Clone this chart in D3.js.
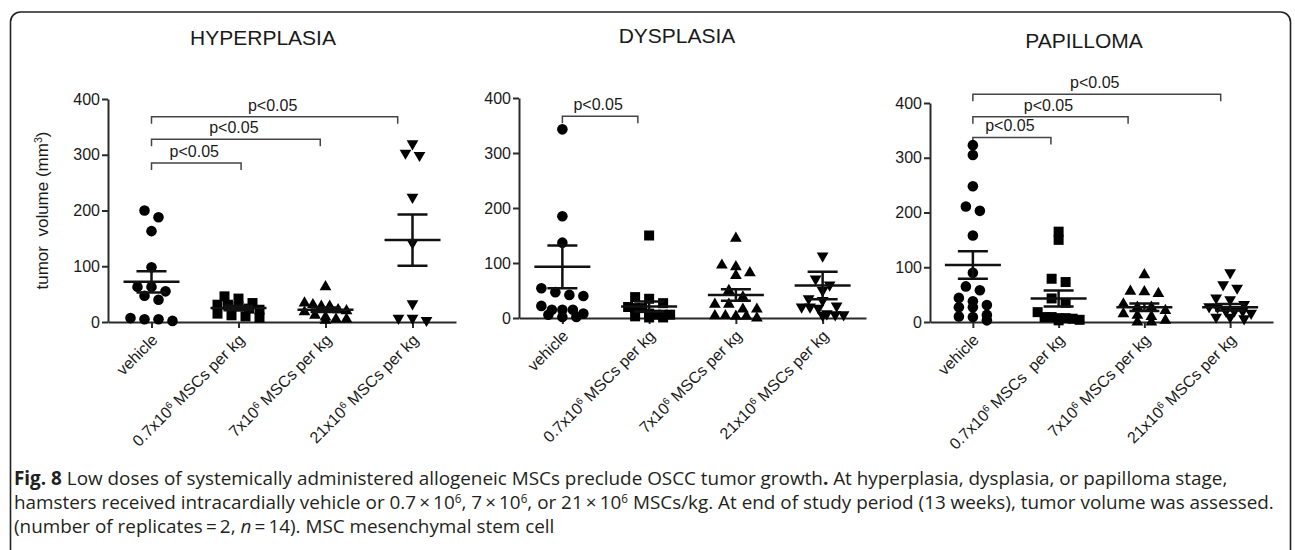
<!DOCTYPE html>
<html>
<head>
<meta charset="utf-8">
<script src="https://cdn.jsdelivr.net/npm/d3@7"></script>
<style>
  body { margin: 0; background: #fff; }
  svg { display: block; }
  text { white-space: pre; }
</style>
</head>
<body>
<div id="main-chart"></div>
<script>
const width = 1295;
const height = 550;

const yTicks = [0, 100, 200, 300, 400];
const groupLabels = ["vehicle", "0.7x10^6 MSCs per kg", "7x10^6 MSCs per kg", "21x10^6 MSCs per kg"];
const papillomaLabels = ["vehicle", "0.7x10^6 MSCs  per kg", "7x10^6 MSCs per kg", "21x10^6 MSCs per kg"];
const shapes = ["circle", "square", "triangle", "triangleDown"];

// hyperplasia (mm3)
const hyperVehicle = [200, 188, 163, 98, 63, 63, 55, 47, 40, 7, 5, 5, 2];
const hyperLow = [46, 42, 34, 31, 31, 28, 24, 22, 15, 12, 10, 8];
const hyperMid = [63, 34, 31, 28, 28, 22, 20, 18, 12, 9, 5, 5, 3];
const hyperHigh = [320, 303, 299, 224, 142, 33, 7, 7, 3];
const hyperMean = [72, 25, 22, 147];
const hyperSem = [19, 4, 4, 46];
const hyperBrackets = [
  { to: 1.03, level: 285 },
  { to: 1.94, level: 328 },
  { to: 2.83, level: 368 },
];

// dysplasia
const dysVehicle = [343, 185, 137, 54, 47, 42, 40, 22, 15, 15, 15, 8, 6, 2, 2];
const dysLow = [150, 38, 35, 27, 20, 18, 18, 8, 6, 6, 6, 3, 1, 1];
const dysMid = [145, 96, 93, 82, 77, 50, 38, 25, 25, 16, 16, 4, 4, 3, 3, 0];
const dysHigh = [113, 71, 60, 50, 35, 32, 22, 20, 20, 18, 8, 6, 6, 5];
const dysMean = [93, 21, 42, 59];
const dysSem = [39, 9, 10.5, 25];
const dysBrackets = [{ to: 0.87, level: 367 }];

// papilloma
const papVehicle = [323, 305, 248, 211, 203, 158, 90, 65, 58, 44, 38, 31, 27, 27, 13, 10, 9, 3];
const papLow = [165, 150, 79, 73, 43, 35, 18, 9, 9, 7, 7, 6, 4, 3];
const papMid = [86, 56, 55, 52, 33, 27, 27, 21, 15, 12, 10, 3, 0, 0];
const papHigh = [90, 68, 62, 44, 41, 32, 28, 27, 20, 20, 20, 16, 9, 9, 6];
const papMean = [104, 43, 27, 27];
const papSem = [25, 14.5, 7, 6];
const papBrackets = [
  { to: 0.91, level: 337 },
  { to: 1.81, level: 375 },
  { to: 2.89, level: 416 },
];

const captionLines = [
  "**Fig. 8** Low doses of systemically administered allogeneic MSCs preclude OSCC tumor growth**.** At hyperplasia, dysplasia, or papilloma stage,",
  "hamsters received intracardially vehicle or 0.7\u2009×\u200910^6, 7\u2009×\u200910^6, or 21\u2009×\u200910^6 MSCs/kg. At end of study period (13 weeks), tumor volume was assessed.",
  "(number of replicates\u2009=\u20092, *n*\u2009=\u200914). MSC mesenchymal stem cell",
];

const panels = [
  { title: "HYPERPLASIA", labels: groupLabels, values: [hyperVehicle, hyperLow, hyperMid, hyperHigh], mean: hyperMean, sem: hyperSem, brackets: hyperBrackets },
  { title: "DYSPLASIA", labels: groupLabels, values: [dysVehicle, dysLow, dysMid, dysHigh], mean: dysMean, sem: dysSem, brackets: dysBrackets },
  { title: "PAPILLOMA", labels: papillomaLabels, values: [papVehicle, papLow, papMid, papHigh], mean: papMean, sem: papSem, brackets: papBrackets },
];

const layout = [
  { x0: 108, x1: 456, top: 99, bottom: 322, titleX: 263, titleY: 45 },
  { x0: 519, x1: 866, top: 98, bottom: 318, titleX: 677, titleY: 43 },
  { x0: 930, x1: 1273, top: 103, bottom: 322, titleX: 1084, titleY: 48 },
];

const chartFont = "'Liberation Sans', Arial, sans-serif";
const ink = "#1a1a1a";

const symbolFor = {
  circle: d3.symbol().type(d3.symbolCircle).size(88),
  square: d3.symbol().type(d3.symbolSquare).size(100),
  triangle: d3.symbol().type(d3.symbolTriangle).size(60),
  triangleDown: d3.symbol().type(d3.symbolTriangle).size(60),
};

// text with ^6 superscripts, *italic* and **bold** parts
const richText = (sel, str) => {
  const tokens = str.split(/(\*\*[^*]+\*\*|\*[^*]+\*|\^\d)/).filter((t) => t !== "");
  let raised = false;
  tokens.forEach((tok) => {
    const span = sel.append("tspan");
    if (tok.startsWith("^")) {
      span.text(tok.slice(1)).attr("font-size", "62%").attr("dy", "-0.55em");
      raised = true;
      return;
    }
    if (raised) {
      span.attr("dy", "0.34em");
      raised = false;
    }
    if (tok.startsWith("**")) span.text(tok.slice(2, -2)).attr("font-weight", "bold");
    else if (tok.startsWith("*")) span.text(tok.slice(1, -1)).attr("font-style", "italic");
    else span.text(tok);
  });
};

// GraphPad-like column scatter: points of similar height share a row
const spreadRows = (values, y) => {
  const pts = values.map((v) => ({ v, py: y(v) }));
  const rows = [];
  pts
    .slice()
    .sort((a, b) => a.py - b.py)
    .forEach((p) => {
      const row = rows[rows.length - 1];
      if (row && p.py - row[0].py < 8) row.push(p);
      else rows.push([p]);
    });
  rows.forEach((row) => {
    const n = row.length;
    const step = n > 1 ? Math.min(14, 42 / (n - 1)) : 0;
    row.forEach((p, j) => (p.dx = (j - (n - 1) / 2) * step));
  });
  return pts;
};

const svg = d3
  .select("#main-chart")
  .append("svg")
  .attr("width", width)
  .attr("height", height);

svg
  .append("rect")
  .attr("x", 10.5)
  .attr("y", 12)
  .attr("width", 1280)
  .attr("height", 600)
  .attr("rx", 10)
  .attr("fill", "none")
  .attr("stroke", "#222")
  .attr("stroke-width", 1.6);

const drawPanel = (panel, lay, showYLabel) => {
  const g = svg.append("g");

  const x = d3.scaleLinear().domain([-0.5, 3.5]).range([lay.x0, lay.x1]);
  const y = d3.scaleLinear().domain([0, 400]).range([lay.bottom, lay.top]);

  g.append("text")
    .attr("x", lay.titleX)
    .attr("y", lay.titleY)
    .attr("text-anchor", "middle")
    .attr("font-family", chartFont)
    .attr("font-size", 21)
    .attr("fill", ink)
    .text(panel.title);

  const styleAxis = (ax) => {
    ax.selectAll("path, line").attr("stroke", "#2a2a2a").attr("stroke-width", 2);
    ax.selectAll("text")
      .attr("font-family", chartFont)
      .attr("font-size", 16)
      .attr("fill", ink);
  };

  g.append("g")
    .attr("transform", `translate(${lay.x0}, 0)`)
    .call(d3.axisLeft(y).tickValues(yTicks).tickSize(6).tickPadding(2).tickSizeOuter(0))
    .call(styleAxis);

  g.append("g")
    .attr("transform", `translate(0, ${lay.bottom})`)
    .call(d3.axisBottom(x).tickValues([0, 1, 2, 3]).tickFormat("").tickSize(6).tickSizeOuter(0))
    .call(styleAxis);

  panel.labels.forEach((lab, i) => {
    const t = g
      .append("text")
      .attr("transform", `translate(${x(i) + 7}, ${lay.bottom + 19}) rotate(-45)`)
      .attr("text-anchor", "end")
      .attr("font-family", chartFont)
      .attr("font-size", 16)
      .attr("fill", ink);
    richText(t, lab);
  });

  if (showYLabel) {
    const t = g
      .append("text")
      .attr("transform", `translate(48, ${(lay.top + lay.bottom) / 2}) rotate(-90)`)
      .attr("text-anchor", "middle")
      .attr("font-family", chartFont)
      .attr("font-size", 17)
      .attr("fill", ink);
    richText(t, "tumor  volume (mm^3)");
  }

  // significance brackets
  panel.brackets.forEach((b) => {
    const xl = x(0);
    const xr = x(b.to);
    const yl = y(b.level);
    g.append("path")
      .attr("d", `M${xl},${yl + 7}V${yl}H${xr}V${yl + 7}`)
      .attr("fill", "none")
      .attr("stroke", "#444")
      .attr("stroke-width", 1.5);
    g.append("text")
      .attr("x", (xl + xr) / 2 - 2)
      .attr("y", yl - 6)
      .attr("text-anchor", "middle")
      .attr("font-family", chartFont)
      .attr("font-size", 16)
      .attr("fill", ink)
      .text("p<0.05");
  });

  // points
  panel.values.forEach((vals, i) => {
    const pts = spreadRows(vals, y);
    const sym = symbolFor[shapes[i]];
    g.append("g")
      .selectAll("path")
      .data(pts)
      .join("path")
      .attr("d", sym)
      .attr(
        "transform",
        (d) =>
          `translate(${x(i) + d.dx}, ${d.py})` +
          (shapes[i] === "triangleDown" ? " rotate(180)" : "")
      )
      .attr("fill", "#000");
  });

  // mean and SEM
  const stats = panel.mean.map((m, i) => ({ i, m, s: panel.sem[i] }));
  const sg = g.append("g").attr("stroke", "#111").attr("stroke-width", 2.5).attr("fill", "none");
  sg.selectAll(".mean")
    .data(stats)
    .join("line")
    .attr("class", "mean")
    .attr("x1", (d) => x(d.i) - 28)
    .attr("x2", (d) => x(d.i) + 28)
    .attr("y1", (d) => y(d.m))
    .attr("y2", (d) => y(d.m));
  sg.selectAll(".sem")
    .data(stats)
    .join("path")
    .attr("class", "sem")
    .attr(
      "d",
      (d) =>
        `M${x(d.i) - 15},${y(d.m + d.s)}H${x(d.i) + 15}` +
        `M${x(d.i)},${y(d.m + d.s)}V${y(d.m - d.s)}` +
        `M${x(d.i) - 15},${y(d.m - d.s)}H${x(d.i) + 15}`
    );
};

panels.forEach((p, k) => drawPanel(p, layout[k], k === 0));

// caption
const caption = svg
  .append("g")
  .attr("font-family", "'Open Sans', 'Noto Sans', sans-serif")
  .attr("fill", "#231f20");

const captionRows = captionLines.map((line, k) => {
  const t = caption
    .append("text")
    .attr("x", 14)
    .attr("y", 485 + k * 24)
    .attr("font-size", 16);
  richText(t, line);
  return t;
});

const fitSize = (16 * 1261) / captionRows[1].node().getComputedTextLength();
captionRows.forEach((t) => t.attr("font-size", fitSize));
</script>
</body>
</html>
